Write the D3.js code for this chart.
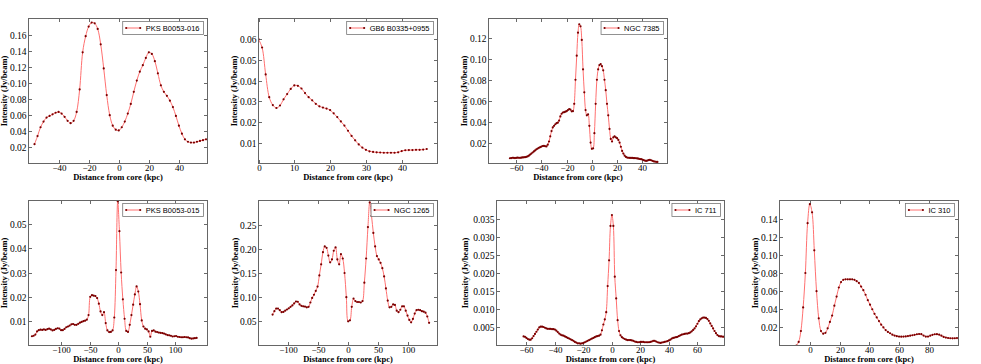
<!DOCTYPE html>
<html>
<head>
<meta charset="utf-8">
<script src="https://cdn.jsdelivr.net/npm/d3@7"></script>
<style>
  body { margin: 0; background: #fff; }
</style>
</head>
<body>
<div id="chart"></div>
<script>
// source names (legend text)
var names = ["PKS B0053-016", "GB6 B0335+0955", "NGC 7385", "PKS B0053-015", "NGC 1265", "IC 711", "IC 310"];

// profile sampling: first distance and spacing, kpc
var startKpc = [-56, 0, -65, -151, -126, -62, -9];
var stepKpc = [2, 1, 1, 3, 3, 1, 1.5];

// intensity along each profile (Jy/beam)
var pks0053_016 = [
  0.024,0.034,0.045,0.052,0.057,0.059,0.061,0.063,0.064,0.062,
  0.058,0.053,0.050,0.053,0.064,0.092,0.138,0.158,0.170,0.175,
  0.174,0.167,0.148,0.118,0.085,0.060,0.047,0.042,0.041,0.045,
  0.052,0.062,0.074,0.089,0.103,0.114,0.122,0.131,0.138,0.136,
  0.127,0.112,0.097,0.089,0.084,0.078,0.070,0.059,0.047,0.037,
  0.030,0.027,0.026,0.026,0.027,0.028,0.029,0.030];

var gb6_0335 = [
  0.060,0.056,0.043,0.032,0.0282,0.0268,0.0280,0.031,0.0335,0.036,
  0.0377,0.0375,0.0362,0.034,0.032,0.0305,0.0288,0.0276,0.027,0.0265,
  0.0258,0.0242,0.0224,0.0203,0.0183,0.0158,0.0133,0.0112,0.0092,0.0077,
  0.0066,0.0059,0.0056,0.0054,0.0053,0.0052,0.0052,0.0052,0.0052,0.0054,
  0.0060,0.0064,0.0065,0.0065,0.0066,0.0066,0.0067,0.0070];

var ngc7385 = [
  0.005,0.0052,0.0055,0.0054,0.0052,0.0054,0.0056,0.0055,0.0054,0.0056,
  0.0058,0.0059,0.006,0.0064,0.0068,0.0075,0.0085,0.0095,0.0105,0.0115,
  0.0125,0.0135,0.0143,0.015,0.0156,0.0162,0.0167,0.0168,0.0165,0.0163,
  0.018,0.021,0.026,0.031,0.0345,0.036,0.0375,0.0385,0.039,0.041,
  0.045,0.0475,0.0487,0.049,0.0495,0.050,0.051,0.052,0.0515,0.0498,
  0.050,0.057,0.080,0.103,0.125,0.133,0.131,0.118,0.090,0.068,
  0.051,0.046,0.047,0.036,0.020,0.014,0.0145,0.029,0.057,0.080,
  0.090,0.094,0.095,0.093,0.089,0.080,0.070,0.057,0.046,0.033,
  0.0235,0.021,0.025,0.026,0.025,0.0242,0.0225,0.020,0.016,0.012,
  0.0095,0.0075,0.0063,0.0057,0.0055,0.0054,0.0053,0.0053,0.0052,0.0052,
  0.005,0.0048,0.0046,0.0043,0.0041,0.0038,0.0033,0.0028,0.0025,0.0028,
  0.0033,0.0034,0.0031,0.0026,0.0021,0.0018,0.0016,0.0015];

var pks0053_015 = [
  0.0038,0.0040,0.0045,0.0058,0.0063,0.0065,0.0064,0.0066,0.0064,0.0067,
  0.0069,0.0066,0.0062,0.0064,0.0068,0.0071,0.0069,0.0063,0.0063,0.0068,
  0.0075,0.0078,0.0082,0.0087,0.0088,0.0085,0.0085,0.0089,0.0094,0.0097,
  0.0100,0.0102,0.0106,0.0125,0.0200,0.0207,0.0205,0.0203,0.0195,0.0172,
  0.0140,0.0125,0.0137,0.0092,0.0062,0.0055,0.0056,0.0062,0.0115,0.0310,
  0.0593,0.0470,0.0300,0.0190,0.0110,0.0060,0.0056,0.0085,0.0125,0.0168,
  0.0210,0.0243,0.0222,0.0170,0.0103,0.0078,0.0069,0.0066,0.0058,0.0036,
  0.0060,0.0062,0.0057,0.0055,0.0053,0.0052,0.0051,0.0049,0.0046,0.0043,
  0.0042,0.0040,0.0037,0.0038,0.0039,0.0036,0.0035,0.0034,0.0034,0.0035,
  0.0034,0.0033,0.0030,0.0028,0.0029,0.0030,0.0031];

var ngc1265 = [
  0.064,0.071,0.0765,0.0765,0.073,0.069,0.0695,0.072,0.0745,0.077,
  0.080,0.083,0.087,0.091,0.0905,0.085,0.082,0.081,0.0805,0.079,
  0.080,0.089,0.0984,0.105,0.113,0.122,0.145,0.168,0.193,0.205,
  0.202,0.186,0.172,0.178,0.196,0.203,0.178,0.168,0.189,0.180,
  0.150,0.100,0.050,0.052,0.080,0.097,0.092,0.090,0.090,0.089,
  0.092,0.130,0.180,0.245,0.296,0.268,0.233,0.205,0.185,0.178,
  0.171,0.160,0.143,0.118,0.093,0.079,0.080,0.085,0.084,0.072,
  0.069,0.074,0.081,0.081,0.072,0.062,0.053,0.048,0.055,0.066,
  0.073,0.074,0.073,0.071,0.070,0.068,0.060,0.047];

var ic711 = [
  0.0025,0.0024,0.0021,0.0018,0.0016,0.0016,0.0020,0.0026,0.0032,0.0038,
  0.0044,0.0050,0.0052,0.0052,0.0051,0.0049,0.0047,0.0046,0.0046,0.0046,
  0.0045,0.0045,0.0044,0.0041,0.0037,0.0033,0.0030,0.0028,0.0027,0.0025,
  0.0023,0.0021,0.0019,0.0017,0.0015,0.0013,0.0010,0.0008,0.0006,0.0006,
  0.0005,0.0006,0.0007,0.0009,0.0011,0.0013,0.0015,0.0017,0.0019,0.0021,
  0.0023,0.0025,0.0026,0.0027,0.0030,0.0042,0.0058,0.0072,0.0092,0.0164,
  0.0235,0.0330,0.0360,0.0330,0.0190,0.0130,0.0070,0.0040,0.0028,0.0023,
  0.0020,0.0018,0.0016,0.0015,0.0015,0.0015,0.0014,0.0013,0.0011,0.0010,
  0.0009,0.0009,0.0010,0.0010,0.0010,0.0009,0.0009,0.0009,0.0009,0.0010,
  0.0011,0.0013,0.0013,0.0011,0.0009,0.0008,0.0007,0.0008,0.0009,0.0010,
  0.0011,0.0012,0.0014,0.0016,0.0019,0.0021,0.0022,0.0023,0.0024,0.0026,
  0.0028,0.0030,0.0031,0.0032,0.0033,0.0033,0.0034,0.0036,0.0039,0.0043,
  0.0047,0.0053,0.0060,0.0067,0.0072,0.0075,0.0077,0.0077,0.0076,0.0073,
  0.0068,0.0061,0.0054,0.0047,0.0040,0.0034,0.0029,0.0026,0.0025,0.0025,
  0.0024,0.0025];

var ic310 = [
  0.000,0.004,0.016,0.042,0.080,0.135,0.156,0.147,0.105,0.060,
  0.030,0.016,0.013,0.014,0.019,0.026,0.033,0.044,0.054,0.064,
  0.070,0.0725,0.073,0.073,0.073,0.073,0.0725,0.071,0.069,0.065,
  0.061,0.056,0.050,0.045,0.040,0.035,0.031,0.027,0.023,0.020,
  0.017,0.015,0.0135,0.012,0.011,0.0103,0.0098,0.0097,0.0098,0.0100,
  0.0104,0.0108,0.0113,0.0118,0.0124,0.0127,0.0125,0.0110,0.0098,0.0098,
  0.0108,0.0118,0.0124,0.0125,0.0120,0.0108,0.0095,0.0088,0.0083,0.0080,
  0.0079,0.0080,0.0082];

var profiles = [pks0053_016, gb6_0335, ngc7385, pks0053_015, ngc1265, ic711, ic310];

// axis limits and ticks
var xDomains = [[-60, 59], [0, 50], [-82, 60], [-157, 156], [-149.5, 149], [-81, 79], [-20.4, 100]];
var yDomains = [[0, 0.18], [0, 0.07], [0, 0.1385], [0, 0.0596], [0, 0.30], [0, 0.04], [0, 0.16]];
var xTicks = [
  [-40, -20, 0, 20, 40],
  [0, 10, 20, 30, 40],
  [-60, -40, -20, 0, 20, 40],
  [-100, -50, 0, 50, 100],
  [-100, -50, 0, 50, 100],
  [-60, -40, -20, 0, 20, 40, 60],
  [0, 20, 40, 60, 80]];
var yTicks = [
  [0.02, 0.04, 0.06, 0.08, 0.10, 0.12, 0.14, 0.16],
  [0.01, 0.02, 0.03, 0.04, 0.05, 0.06],
  [0.02, 0.04, 0.06, 0.08, 0.10, 0.12],
  [0.01, 0.02, 0.03, 0.04, 0.05],
  [0.05, 0.10, 0.15, 0.20, 0.25],
  [0.005, 0.010, 0.015, 0.020, 0.025, 0.030, 0.035],
  [0.02, 0.04, 0.06, 0.08, 0.10, 0.12, 0.14]];
var yDecimals = [2, 2, 2, 2, 2, 3, 2];

// panel frames in pixels: left, top, right, bottom, gap for y label
var frames = [
  [28.5, 18.5, 207.5, 163.5, 24],
  [258.5, 18.5, 437.5, 163.5, 24],
  [488.5, 18.5, 667.5, 163.5, 24],
  [28.5, 200.5, 207.5, 345.5, 24],
  [258.5, 200.5, 437.5, 345.5, 23.5],
  [496.5, 200.5, 724.5, 345.5, 31],
  [779.5, 200.5, 958.5, 345.5, 24]];

var svg = d3.select("#chart")
  .append("svg")
    .attr("width", 981)
    .attr("height", 364)
    .style("display", "block");

var serif = "'Liberation Serif', 'DejaVu Serif', serif";
var sans = "'Liberation Sans', Arial, sans-serif";

var fmtX = function(d) { return (d < 0 ? "\u2212" : "") + Math.abs(d); };

var Plot = function(i) {
  var f = frames[i];
  var left = f[0], top = f[1], right = f[2], bottom = f[3];
  var w = right - left, h = bottom - top;

  var x = d3.scaleLinear().domain(xDomains[i]).range([left, right]);
  var y = d3.scaleLinear().domain(yDomains[i]).range([bottom, top]);

  var data = profiles[i].map(function(v, k) {
    return { d: startKpc[i] + k * stepKpc[i], v: v };
  });

  var g = svg.append("g");

  g.append("clipPath")
    .attr("id", "clip" + i)
    .append("rect")
      .attr("x", left).attr("y", top)
      .attr("width", w).attr("height", h);

  // ticks on all four sides, pointing in
  var tl = 3.5;
  xTicks[i].forEach(function(t) {
    var px = Math.round(x(t)) + 0.5;
    g.append("line").attr("x1", px).attr("x2", px).attr("y1", bottom).attr("y2", bottom - tl)
      .attr("stroke", "#444").attr("stroke-width", 0.8);
    g.append("line").attr("x1", px).attr("x2", px).attr("y1", top).attr("y2", top + tl)
      .attr("stroke", "#444").attr("stroke-width", 0.8);
    g.append("text")
      .attr("x", px).attr("y", bottom + 7.3)
      .attr("text-anchor", "middle")
      .style("font-family", serif).style("font-size", "9px")
      .text(fmtX(t));
  });
  var fy = d3.format("." + yDecimals[i] + "f");
  yTicks[i].forEach(function(t) {
    var py = Math.round(y(t)) + 0.5;
    g.append("line").attr("x1", left).attr("x2", left + tl).attr("y1", py).attr("y2", py)
      .attr("stroke", "#444").attr("stroke-width", 0.8);
    g.append("line").attr("x1", right).attr("x2", right - tl).attr("y1", py).attr("y2", py)
      .attr("stroke", "#444").attr("stroke-width", 0.8);
    g.append("text")
      .attr("x", left - 2).attr("y", py + 3.2)
      .attr("text-anchor", "end")
      .style("font-family", serif).style("font-size", "9.5px")
      .text(fy(t));
  });

  // the profile: light red line with dark red points
  var line = d3.line()
    .x(function(d) { return x(d.d); })
    .y(function(d) { return y(d.v); })
    .curve(d3.curveCatmullRom.alpha(0.5));

  var plot = g.append("g").attr("clip-path", "url(#clip" + i + ")");
  plot.append("path")
    .datum(data)
    .attr("d", line)
    .attr("fill", "none")
    .attr("stroke", "#ff7070")
    .attr("stroke-width", 1);
  plot.selectAll("circle")
    .data(data)
    .enter()
    .append("circle")
      .attr("cx", function(d) { return x(d.d); })
      .attr("cy", function(d) { return y(d.v); })
      .attr("r", 1.1)
      .attr("fill", "#7a0000");

  // frame
  g.append("rect")
    .attr("x", left).attr("y", top)
    .attr("width", w).attr("height", h)
    .attr("fill", "none")
    .attr("stroke", "#666")
    .attr("stroke-width", 1);

  // axis labels
  g.append("text")
    .attr("x", (left + right) / 2).attr("y", bottom + 16.8)
    .attr("text-anchor", "middle")
    .style("font-family", serif).style("font-size", "8.5px").style("font-weight", "bold")
    .text("Distance from core (kpc)");
  g.append("text")
    .attr("transform", "translate(" + (left - f[4]) + "," + ((top + bottom) / 2) + ") rotate(-90)")
    .attr("text-anchor", "middle")
    .attr("dy", "0.3em")
    .style("font-family", serif).style("font-size", "8.5px").style("font-weight", "bold")
    .text("Intensity (Jy/beam)");

  // legend box, top right
  var leg = g.append("g");
  var txt = leg.append("text")
    .style("font-family", sans).style("font-size", "7.5px")
    .text(names[i]);
  var tw = txt.node().getComputedTextLength();
  var lw = tw + 27, lh = 13;
  var lx = right - 4 - lw, ly = top + 3;
  leg.insert("rect", "text")
    .attr("x", lx).attr("y", ly)
    .attr("width", lw).attr("height", lh)
    .attr("fill", "#fff")
    .attr("stroke", "#777")
    .attr("stroke-width", 0.8);
  var my = ly + lh / 2;
  leg.append("line")
    .attr("x1", lx + 3).attr("x2", lx + 18).attr("y1", my).attr("y2", my)
    .attr("stroke", "#ff7070").attr("stroke-width", 1);
  [lx + 3.5, lx + 17.5].forEach(function(cx) {
    leg.append("circle").attr("cx", cx).attr("cy", my).attr("r", 1.1).attr("fill", "#7a0000");
  });
  txt.attr("x", lx + 23).attr("y", my + 2.7);
};

for (var i = 0; i < profiles.length; i++) {
  Plot(i);
}
</script>
</body>
</html>
